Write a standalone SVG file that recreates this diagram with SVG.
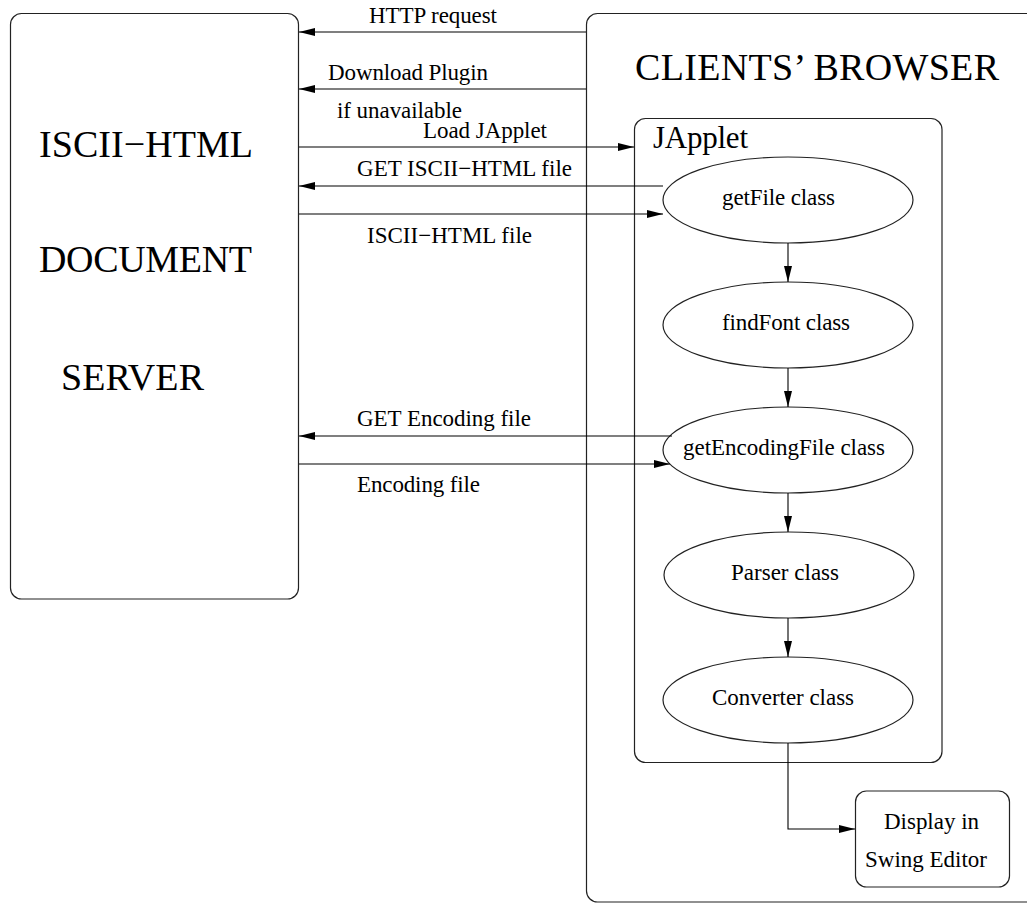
<svg xmlns="http://www.w3.org/2000/svg" width="1027" height="904" viewBox="0 0 1027 904">
<defs>
<style>
.box{fill:none;stroke:#222;stroke-width:1.2}
.ell{fill:#fff;stroke:#222;stroke-width:1.2}
.ln{fill:none;stroke:#000;stroke-width:1.1}
.t{font-family:"Liberation Serif","Times New Roman",serif;fill:#000}
.s{font-size:23px}
.b{font-size:38px}
.m{font-size:31px}
</style>
<marker id="ah" viewBox="0 0 16 8" refX="16" refY="4" markerWidth="16" markerHeight="8" markerUnits="userSpaceOnUse" orient="auto">
<path d="M0,0 L16,4 L0,8 z" fill="#000"/>
</marker>
</defs>
<rect width="1027" height="904" fill="#fff"/>
<g id="server">
<rect class="box" x="10.5" y="13.5" width="288" height="585.5" rx="11"/>
<text class="t b" x="39" y="157" textLength="214">ISCII−HTML</text>
<text class="t b" x="39" y="272" textLength="213">DOCUMENT</text>
<text class="t b" x="61" y="390" textLength="143">SERVER</text>
</g>
<g id="browser">
<rect class="box" x="586.5" y="13.5" width="470" height="888.5" rx="11"/>
<text class="t b" x="635" y="80" textLength="364">CLIENTS’ BROWSER</text>
</g>
<g id="japplet">
<rect class="box" x="634.5" y="118.5" width="307.5" height="644" rx="11"/>
<text class="t m" x="653" y="148" textLength="95">JApplet</text>
</g>
<g id="getFile">
<ellipse class="ell" cx="788" cy="200" rx="125" ry="43"/>
<text class="t s" x="722" y="205" textLength="113">getFile class</text>
</g>
<g id="findFont">
<ellipse class="ell" cx="788" cy="325" rx="125" ry="43"/>
<text class="t s" x="722" y="330" textLength="128">findFont class</text>
</g>
<g id="getEncodingFile">
<ellipse class="ell" cx="788" cy="450" rx="125" ry="43"/>
<text class="t s" x="683" y="455" textLength="202">getEncodingFile class</text>
</g>
<g id="parser">
<ellipse class="ell" cx="789" cy="575" rx="125" ry="43"/>
<text class="t s" x="731" y="580" textLength="108">Parser class</text>
</g>
<g id="converter">
<ellipse class="ell" cx="788" cy="700" rx="125" ry="43"/>
<text class="t s" x="712" y="705" textLength="142">Converter class</text>
</g>
<g id="display">
<rect class="box" x="855.5" y="791" width="154" height="96" rx="11"/>
<text class="t s" x="884" y="829" textLength="95">Display in</text>
<text class="t s" x="865" y="867" textLength="122">Swing Editor</text>
</g>
<g id="connectors">
<line class="ln" x1="586" y1="32" x2="299" y2="32" marker-end="url(#ah)"/>
<line class="ln" x1="586" y1="89" x2="299" y2="89" marker-end="url(#ah)"/>
<line class="ln" x1="299" y1="147" x2="634" y2="147" marker-end="url(#ah)"/>
<line class="ln" x1="663" y1="186" x2="299" y2="186" marker-end="url(#ah)"/>
<line class="ln" x1="299" y1="214" x2="663" y2="214" marker-end="url(#ah)"/>
<line class="ln" x1="672" y1="436" x2="299" y2="436" marker-end="url(#ah)"/>
<line class="ln" x1="299" y1="464" x2="670" y2="464" marker-end="url(#ah)"/>
<line class="ln" x1="788" y1="243" x2="788" y2="282" marker-end="url(#ah)"/>
<line class="ln" x1="788" y1="368" x2="788" y2="407" marker-end="url(#ah)"/>
<line class="ln" x1="788" y1="493" x2="788" y2="532" marker-end="url(#ah)"/>
<line class="ln" x1="788" y1="618" x2="788" y2="657" marker-end="url(#ah)"/>
<polyline class="ln" points="788,743 788,829 855,829" marker-end="url(#ah)"/>
<text class="t s" x="369" y="23" textLength="128">HTTP request</text>
<text class="t s" x="328" y="80" textLength="160">Download Plugin</text>
<text class="t s" x="337" y="118" textLength="125">if unavailable</text>
<text class="t s" x="423" y="138" textLength="124">Load JApplet</text>
<text class="t s" x="357" y="176" textLength="215">GET ISCII−HTML file</text>
<text class="t s" x="367" y="243" textLength="165">ISCII−HTML file</text>
<text class="t s" x="357" y="426" textLength="174">GET Encoding file</text>
<text class="t s" x="357" y="492" textLength="123">Encoding file</text>
</g>
</svg>
